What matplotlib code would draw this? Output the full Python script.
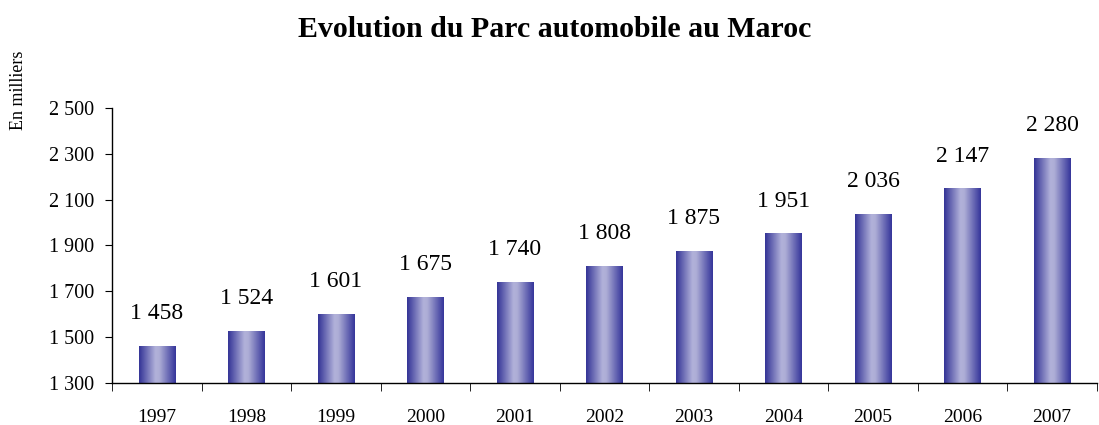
import numpy as np
import matplotlib.pyplot as plt
from matplotlib.colors import LinearSegmentedColormap

years = ['1997', '1998', '1999', '2000', '2001', '2002', '2003', '2004', '2005', '2006', '2007']
parc = [1458, 1524, 1601, 1675, 1740, 1808, 1875, 1951, 2036, 2147, 2280]
yticks = [1300, 1500, 1700, 1900, 2100, 2300, 2500]

plt.rcParams['font.family'] = ['Liberation Serif', 'DejaVu Serif']

def fmt(v):
    return '{:,}'.format(v).replace(',', ' ')

# gradient dark edge -> light centre -> dark edge
grad = LinearSegmentedColormap.from_list('barg', [
    (0.0, '#333396'), (0.45, '#b2b2da'), (0.55, '#aeaed6'), (1.0, '#34349a')])

fig = plt.figure(figsize=(10.99, 4.25), dpi=100)
ax = fig.add_axes([0.102, 0.099, 0.896, 0.647])

x = np.arange(len(years))
bars = ax.bar(x, parc, width=0.41, bottom=0, color='none', edgecolor='none')
ax.set_ylim(1300, 2500)
ax.set_xlim(-0.5, len(years) - 0.5)

g = np.linspace(0, 1, 256).reshape(1, -1)
for b, v in zip(bars, parc):
    x0 = b.get_x()
    ax.imshow(g, cmap=grad, aspect='auto', extent=(x0, x0 + b.get_width(), 1300, v),
              zorder=2, interpolation='bicubic')
    ax.annotate(fmt(v), (b.get_x() + b.get_width() / 2, v), xytext=(0, 16),
                textcoords='offset points', ha='center', va='bottom', fontsize=17)

ax.set_yticks(yticks)
ax.set_yticklabels([fmt(t) for t in yticks], fontsize=14.5)
ax.set_xticks(x)
ax.set_xticklabels(years, fontsize=14)
ax.set_xticks(np.arange(len(years) + 1) - 0.5, minor=True)
ax.tick_params(axis='x', which='major', length=0, pad=19)
ax.tick_params(axis='x', which='minor', length=6, direction='out')
ax.tick_params(axis='y', length=5, direction='out', pad=8)

for s in ['top', 'right']:
    ax.spines[s].set_visible(False)
ax.spines['left'].set_linewidth(1)
ax.spines['bottom'].set_linewidth(1)

fig.text(0.505, 0.93, 'Evolution du Parc automobile au Maroc', ha='center', va='center',
         fontsize=21.5, fontweight='bold')
fig.text(0.017, 0.788, 'En milliers', rotation=90, ha='center', va='center', fontsize=13)

fig.savefig('out.png', dpi=100)
